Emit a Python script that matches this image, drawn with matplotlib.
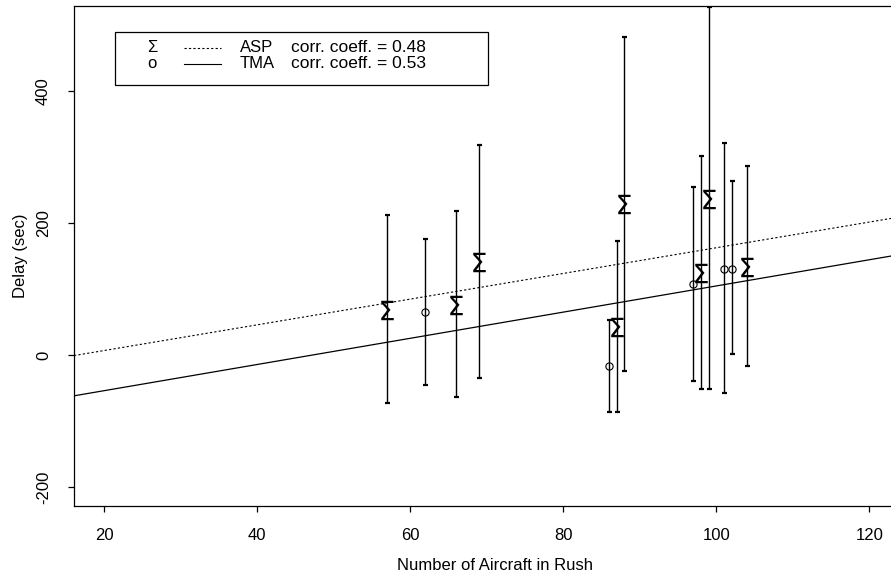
import matplotlib
matplotlib.use("Agg")
import matplotlib.pyplot as plt
import numpy as np
from matplotlib.patches import Rectangle
from matplotlib.lines import Line2D

plt.rcParams['font.family'] = ['Liberation Sans', 'DejaVu Sans']

# ASP runs (sigma markers)
asp_x = [57, 66, 69, 87, 88, 98, 99, 104]
asp_y = [68, 76, 141, 42, 229, 124, 236, 133]
asp_lo = [-73, -64, -35, -86, -25, -52, -52, -17]
asp_hi = [212, 218, 318, 173, 482, 301, 527, 286]

# TMA runs (o markers)
tma_x = [62, 86, 97, 101, 102]
tma_y = [65, -17, 107, 131, 131]
tma_lo = [-45, -86, -39, -58, 2]
tma_hi = [176, 53, 255, 321, 263]

# regression lines: intercept, slope
asp_fit = [-32.3, 1.948]
tma_fit = [-93.9, 1.985]

series_names = ["ASP", "TMA"]
corr = [0.48, 0.53]

xticks = [20, 40, 60, 80, 100, 120]
yticks = [-200, 0, 200, 400]

fig = plt.figure(figsize=(8.91, 5.73), dpi=100)
# plot region runs past the right edge of the picture
ax = fig.add_axes([74/891, 67/573, 842/891, 500/573])
ax.set_xlim(16.08, 126.1)
ax.set_ylim(-229, 529)

xx = np.array(ax.get_xlim())
ax.plot(xx, asp_fit[0] + asp_fit[1]*xx, color='black', lw=0.8, ls=(0, (2, 2)))
ax.plot(xx, tma_fit[0] + tma_fit[1]*xx, color='black', lw=0.9)

def bars(x, y, lo, hi):
    y = np.array(y)
    err = [y - np.array(lo), np.array(hi) - y]
    ax.errorbar(x, y, yerr=err, fmt='none', ecolor='black', elinewidth=1.0,
                capsize=1.8, capthick=1.6)

bars(asp_x, asp_y, asp_lo, asp_hi)
bars(tma_x, tma_y, tma_lo, tma_hi)
ax.plot(asp_x, asp_y, ls='none', marker='$\\Sigma$', ms=14, color='black',
        mew=0)
ax.plot(tma_x, tma_y, ls='none', marker='o', ms=5.2, mfc='none',
        mec='black', mew=0.8)

ax.set_xticks(xticks)
ax.set_yticks(yticks)
ax.set_yticklabels([str(v) for v in yticks], rotation=90, va='center')
ax.tick_params(direction='out', length=4.5, width=0.9, labelsize=12)
ax.tick_params(axis='x', pad=11)
ax.tick_params(axis='y', pad=12)
for s in ax.spines.values():
    s.set_linewidth(0.9)

ax.set_xlabel("Number of Aircraft in Rush", fontsize=12, labelpad=11)
ax.set_ylabel("Delay (sec)", fontsize=12, labelpad=6)

# legend box, drawn by hand in axes coordinates
t = ax.transAxes
w = 817/842
ax.add_patch(Rectangle((0.050*w, 0.842), 0.457*w, 0.106, transform=t,
                       fill=False, lw=0.9, ec='black'))
rows = [0.916, 0.884]
syms = ["Σ", "o"]
styles = [(0, (2, 2)), '-']
for r, sym, st, nm, c in zip(rows, syms, styles, series_names, corr):
    ax.text(0.0955*w, r, sym, transform=t, ha='center', va='center', fontsize=12)
    ax.add_line(Line2D([0.1346*w, 0.180*w], [r, r], transform=t, color='black',
                       lw=0.8, ls=st))
    ax.text(0.203*w, r, nm, transform=t, ha='left', va='center', fontsize=12)
    ax.text(0.2656*w, r, "corr. coeff. = %.2f" % c, transform=t, ha='left',
            va='center', fontsize=12.5)

fig.savefig("out.png", dpi=100)
